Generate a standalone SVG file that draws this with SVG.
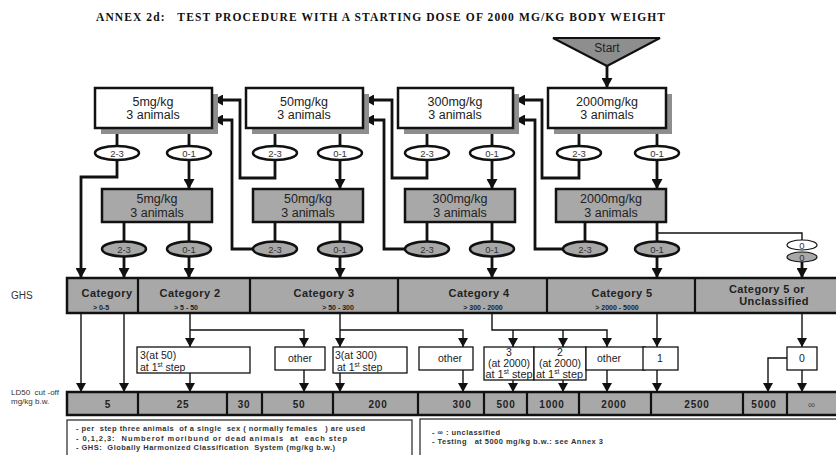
<svg xmlns="http://www.w3.org/2000/svg" width="836" height="455" viewBox="0 0 836 455">
<style>
text{font-family:"Liberation Sans",Arial,sans-serif;fill:#222}
.title{font-family:"Liberation Serif","Times New Roman",serif;font-weight:bold;font-size:11.5px;fill:#111;white-space:pre}
.box{fill:#fff;stroke:#111;stroke-width:2.5}
.gbox{fill:#a8a8a8;stroke:#111;stroke-width:2.5}
.shadow{fill:#8e8e8e}
.ell{fill:#fff;stroke:#111;stroke-width:2.5}
.gell{fill:#a8a8a8;stroke:#111;stroke-width:2.5}
.sell{stroke:#111;stroke-width:1.2}
.bt{font-size:12.5px;text-anchor:middle}
.et{font-size:9.5px;text-anchor:middle;fill:#333}
.thick{fill:none;stroke:#111;stroke-width:2.8}
.thin{fill:none;stroke:#111;stroke-width:1.4}
.bar{fill:#a8a8a8;stroke:#111;stroke-width:2.5}
.div{stroke:#111;stroke-width:2.2}
.cat{font-size:11px;font-weight:bold;text-anchor:middle;letter-spacing:0.4px}
.rng{font-size:7px;font-weight:bold;text-anchor:middle}
.num{font-size:10px;font-weight:bold;text-anchor:middle;letter-spacing:0.8px}
.lb{fill:#fff;stroke:#111;stroke-width:1.3}
.lt{font-size:10.5px}
.note{font-size:7.5px;font-weight:bold;fill:#333;white-space:pre}
.side{fill:#333;white-space:pre}
</style>
<defs>
<marker id="ah" markerUnits="userSpaceOnUse" markerWidth="11" markerHeight="11" refX="10" refY="5.5" orient="auto">
<path d="M0,0 L10,5.5 L0,11 z" fill="#111"/>
</marker>
<marker id="ahs" markerUnits="userSpaceOnUse" markerWidth="10" markerHeight="10" refX="9" refY="5" orient="auto">
<path d="M0,0 L9,5 L0,10 z" fill="#111"/>
</marker>
</defs>
<rect width="836" height="455" fill="#fff"/>
<text class="title" x="96" y="21" textLength="569" lengthAdjust="spacing">ANNEX 2d:   TEST PROCEDURE WITH A STARTING DOSE OF 2000 MG/KG BODY WEIGHT</text>

<g id="connectors">
<path class="thick" d="M607,66 V88" marker-end="url(#ah)"/>
<path class="thick" d="M117,128 V146 M189,128 V146 M275,128 V146 M340,128 V146 M427,128 V146 M492,128 V146 M579,128 V146 M657,128 V146"/>
<path class="thick" d="M124,222 V241 M189,222 V241 M275,222 V241 M340,222 V241 M427,222 V241 M492,222 V241 M585,222 V241 M657,222 V241"/>
<path class="thick" d="M189,160 V189" marker-end="url(#ah)"/>
<path class="thick" d="M340,160 V189" marker-end="url(#ah)"/>
<path class="thick" d="M492,160 V189" marker-end="url(#ah)"/>
<path class="thick" d="M657,160 V189" marker-end="url(#ah)"/>
<path class="thick" d="M117,160 V177 H81 V278" marker-end="url(#ah)"/>
<path class="thick" d="M124,256 V278" marker-end="url(#ah)"/>
<path class="thick" d="M189,256 V278" marker-end="url(#ah)"/>
<path class="thick" d="M340,256 V278" marker-end="url(#ah)"/>
<path class="thick" d="M492,256 V278" marker-end="url(#ah)"/>
<path class="thick" d="M657,256 V278" marker-end="url(#ah)"/>
<path class="thick" d="M275,160 V178 H240 V100 H213" marker-end="url(#ah)"/>
<path class="thick" d="M253,249 H232 V120 H213" marker-end="url(#ah)"/>
<path class="thick" d="M427,160 V178 H392 V100 H364" marker-end="url(#ah)"/>
<path class="thick" d="M405,249 H384 V120 H364" marker-end="url(#ah)"/>
<path class="thick" d="M579,160 V178 H542 V100 H515" marker-end="url(#ah)"/>
<path class="thick" d="M563,249 H535 V120 H515" marker-end="url(#ah)"/>
<path class="thin" d="M657,233 H802 V240"/>
<path class="thick" d="M802,262 V278" marker-end="url(#ah)"/>

<path class="thin" d="M81,313 V392" marker-end="url(#ahs)"/>
<path class="thin" d="M124,313 V392" marker-end="url(#ahs)"/>
<path class="thin" d="M190,313 V347" marker-end="url(#ahs)"/>
<path class="thin" d="M190,330 H304 V347" marker-end="url(#ahs)"/>
<path class="thin" d="M190,373 V392" marker-end="url(#ahs)"/>
<path class="thin" d="M304,370 V392" marker-end="url(#ahs)"/>
<path class="thin" d="M340,313 V347" marker-end="url(#ahs)"/>
<path class="thin" d="M340,330 H463 V347" marker-end="url(#ahs)"/>
<path class="thin" d="M340,373 V392" marker-end="url(#ahs)"/>
<path class="thin" d="M463,370 V392" marker-end="url(#ahs)"/>
<path class="thin" d="M492,313 V330 H607 V347" marker-end="url(#ahs)"/>
<path class="thin" d="M513,330 V347" marker-end="url(#ahs)"/>
<path class="thin" d="M563,330 V347" marker-end="url(#ahs)"/>
<path class="thin" d="M513,380 V392" marker-end="url(#ahs)"/>
<path class="thin" d="M563,380 V392" marker-end="url(#ahs)"/>
<path class="thin" d="M607,370 V392" marker-end="url(#ahs)"/>
<path class="thin" d="M657,313 V347" marker-end="url(#ahs)"/>
<path class="thin" d="M657,370 V392" marker-end="url(#ahs)"/>
<path class="thin" d="M802,313 V347" marker-end="url(#ahs)"/>
<path class="thin" d="M802,370 V392" marker-end="url(#ahs)"/>
<path class="thin" d="M787,358 H768 V392" marker-end="url(#ahs)"/>
</g>

<g id="start">
<polygon points="553,38 660,38 607,66" fill="#8e8e8e" stroke="#111" stroke-width="2"/>
<text class="bt" x="607" y="52" style="font-size:12px">Start</text>
</g>

<g id="top-5">
<rect class="shadow" x="101" y="94" width="117" height="40"/>
<rect class="box" x="95" y="88" width="117" height="40"/>
<text class="bt" x="153" y="105.5">5mg/kg</text><text class="bt" x="153" y="119">3 animals</text>
</g>
<g id="top-50">
<rect class="shadow" x="252" y="94" width="117" height="40"/>
<rect class="box" x="246" y="88" width="117" height="40"/>
<text class="bt" x="304" y="105.5">50mg/kg</text><text class="bt" x="304" y="119">3 animals</text>
</g>
<g id="top-300">
<rect class="shadow" x="404" y="94" width="115" height="40"/>
<rect class="box" x="398" y="88" width="115" height="40"/>
<text class="bt" x="455" y="105.5">300mg/kg</text><text class="bt" x="455" y="119">3 animals</text>
</g>
<g id="top-2000">
<rect class="shadow" x="554" y="94" width="118" height="40"/>
<rect class="box" x="548" y="88" width="118" height="40"/>
<text class="bt" x="607" y="105.5">2000mg/kg</text><text class="bt" x="607" y="119">3 animals</text>
</g>

<g id="top-ellipses">
<ellipse class="ell" cx="117" cy="153" rx="22" ry="7"/><text class="et" x="117" y="156.5">2-3</text>
<ellipse class="ell" cx="189" cy="153" rx="22" ry="7"/><text class="et" x="189" y="156.5">0-1</text>
<ellipse class="ell" cx="275" cy="153" rx="22" ry="7"/><text class="et" x="275" y="156.5">2-3</text>
<ellipse class="ell" cx="340" cy="153" rx="22" ry="7"/><text class="et" x="340" y="156.5">0-1</text>
<ellipse class="ell" cx="427" cy="153" rx="22" ry="7"/><text class="et" x="427" y="156.5">2-3</text>
<ellipse class="ell" cx="492" cy="153" rx="22" ry="7"/><text class="et" x="492" y="156.5">0-1</text>
<ellipse class="ell" cx="579" cy="153" rx="22" ry="7"/><text class="et" x="579" y="156.5">2-3</text>
<ellipse class="ell" cx="657" cy="153" rx="22" ry="7"/><text class="et" x="657" y="156.5">0-1</text>
</g>

<g id="second-5">
<rect class="gbox" x="102" y="189" width="110" height="33"/>
<text class="bt" x="157" y="203">5mg/kg</text><text class="bt" x="157" y="216.5">3 animals</text>
</g>
<g id="second-50">
<rect class="gbox" x="253" y="189" width="110" height="33"/>
<text class="bt" x="308" y="203">50mg/kg</text><text class="bt" x="308" y="216.5">3 animals</text>
</g>
<g id="second-300">
<rect class="gbox" x="405" y="189" width="110" height="33"/>
<text class="bt" x="460" y="203">300mg/kg</text><text class="bt" x="460" y="216.5">3 animals</text>
</g>
<g id="second-2000">
<rect class="gbox" x="556" y="189" width="110" height="33"/>
<text class="bt" x="611" y="203">2000mg/kg</text><text class="bt" x="611" y="216.5">3 animals</text>
</g>

<g id="second-ellipses">
<ellipse class="gell" cx="124" cy="249" rx="22" ry="7.5"/><text class="et" x="124" y="252.5">2-3</text>
<ellipse class="gell" cx="189" cy="249" rx="22" ry="7.5"/><text class="et" x="189" y="252.5">0-1</text>
<ellipse class="gell" cx="275" cy="249" rx="22" ry="7.5"/><text class="et" x="275" y="252.5">2-3</text>
<ellipse class="gell" cx="340" cy="249" rx="22" ry="7.5"/><text class="et" x="340" y="252.5">0-1</text>
<ellipse class="gell" cx="427" cy="249" rx="22" ry="7.5"/><text class="et" x="427" y="252.5">2-3</text>
<ellipse class="gell" cx="492" cy="249" rx="22" ry="7.5"/><text class="et" x="492" y="252.5">0-1</text>
<ellipse class="gell" cx="585" cy="249" rx="22" ry="7.5"/><text class="et" x="585" y="252.5">2-3</text>
<ellipse class="gell" cx="657" cy="249" rx="22" ry="7.5"/><text class="et" x="657" y="252.5">0-1</text>
</g>
<g id="zero-ellipses">
<ellipse class="sell" cx="802" cy="245" rx="15" ry="5" fill="#fff"/><text class="et" x="802" y="248.5">0</text>
<ellipse class="sell" cx="802" cy="257" rx="15" ry="5" fill="#a8a8a8"/><text class="et" x="802" y="260.5">0</text>
</g>

<g id="ghs-bar">
<text class="side" x="11" y="299" style="font-size:10px">GHS</text>
<rect class="bar" x="67" y="278" width="780" height="35"/>
<path class="div" d="M138,278 V313 M250,278 V313 M398,278 V313 M547,278 V313 M695,278 V313"/>
<text class="cat" x="107" y="297">Category</text><text class="rng" x="101" y="310">&gt;  0-5</text>
<text class="cat" x="190" y="297">Category 2</text><text class="rng" x="186" y="310">&gt; 5 - 50</text>
<text class="cat" x="324" y="297">Category 3</text><text class="rng" x="338" y="310">&gt; 50 - 300</text>
<text class="cat" x="479" y="297">Category 4</text><text class="rng" x="483" y="310">&gt; 300 - 2000</text>
<text class="cat" x="622" y="297">Category 5</text><text class="rng" x="617" y="310">&gt; 2000 - 5000</text>
<text class="cat" x="767" y="293">Category 5 or</text><text class="cat" x="774" y="305">Unclassified</text>
</g>

<g id="outcome-3at50">
<rect class="lb" x="137" y="347" width="113" height="26"/>
<text class="lt" x="140" y="359">3(at 50)</text>
<text class="lt" x="140" y="370.5">at 1<tspan font-size="6.5" dy="-4">st</tspan><tspan dy="4"> step</tspan></text>
</g>
<g id="outcome-other-1">
<rect class="lb" x="275" y="347" width="50" height="23"/>
<text class="lt" x="300" y="362" text-anchor="middle">other</text>
</g>
<g id="outcome-3at300">
<rect class="lb" x="333" y="347" width="74" height="26"/>
<text class="lt" x="335" y="359">3(at 300)</text>
<text class="lt" x="337" y="370.5">at 1<tspan font-size="6.5" dy="-4">st</tspan><tspan dy="4"> step</tspan></text>
</g>
<g id="outcome-other-2">
<rect class="lb" x="419" y="347" width="54" height="23"/>
<text class="lt" x="450" y="362" text-anchor="middle">other</text>
</g>
<g id="outcome-3at2000">
<rect class="lb" x="484" y="347" width="50" height="33"/>
<text class="lt" x="509" y="356" text-anchor="middle">3</text>
<text class="lt" x="509" y="367" text-anchor="middle">(at 2000)</text>
<text class="lt" x="485.5" y="378" textLength="47" lengthAdjust="spacingAndGlyphs">at 1<tspan font-size="6.5" dy="-4">st</tspan><tspan dy="4"> step</tspan></text>
</g>
<g id="outcome-2at2000">
<rect class="lb" x="534" y="347" width="52" height="33"/>
<text class="lt" x="560" y="356" text-anchor="middle">2</text>
<text class="lt" x="560" y="367" text-anchor="middle">(at 2000)</text>
<text class="lt" x="536" y="378" textLength="47" lengthAdjust="spacingAndGlyphs">at 1<tspan font-size="6.5" dy="-4">st</tspan><tspan dy="4"> step</tspan></text>
</g>
<g id="outcome-other-3">
<rect class="lb" x="586" y="347" width="59" height="23"/>
<text class="lt" x="609" y="362" text-anchor="middle">other</text>
</g>
<g id="outcome-1">
<rect class="lb" x="643" y="347" width="35" height="23"/>
<text class="lt" x="660" y="362" text-anchor="middle">1</text>
</g>
<g id="outcome-0">
<rect class="lb" x="787" y="347" width="30" height="23"/>
<text class="lt" x="802" y="362" text-anchor="middle">0</text>
</g>

<g id="ld50-bar">
<text class="side" x="11" y="395" style="font-size:8px">LD50  cut -off</text>
<text class="side" x="11" y="404" style="font-size:8px">mg/kg b.w.</text>
<rect class="bar" x="67" y="392" width="780" height="23"/>
<path class="div" d="M138,392 V415 M227,392 V415 M262,392 V415 M333,392 V415 M418,392 V415 M484,392 V415 M527,392 V415 M579,392 V415 M651,392 V415 M743,392 V415 M787,392 V415"/>
<text class="num" x="108" y="408">5</text>
<text class="num" x="183" y="408">25</text>
<text class="num" x="244" y="408">30</text>
<text class="num" x="299" y="408">50</text>
<text class="num" x="378" y="408">200</text>
<text class="num" x="462" y="408">300</text>
<text class="num" x="506" y="408">500</text>
<text class="num" x="552" y="408">1000</text>
<text class="num" x="614" y="408">2000</text>
<text class="num" x="697" y="408">2500</text>
<text class="num" x="764" y="408">5000</text>
<text class="num" x="812" y="408" style="font-weight:normal;fill:#555">∞</text>
</g>

<g id="notes-left">
<rect x="67" y="420" width="345" height="45" fill="#fff" stroke="#222" stroke-width="1.2"/>
<text class="note" x="76" y="431" textLength="289" lengthAdjust="spacing">- per  step three animals  of a single  sex ( normally females   ) are used</text>
<text class="note" x="76" y="440.5" textLength="271" lengthAdjust="spacing">- 0,1,2,3:  Numberof moribund or dead animals  at  each step</text>
<text class="note" x="76" y="450" textLength="259" lengthAdjust="spacing">- GHS:  Globally Harmonized Classification  System (mg/kg b.w.)</text>
</g>
<g id="notes-right">
<rect x="420" y="419" width="430" height="46" fill="#fff" stroke="#222" stroke-width="1.2"/>
<text class="note" x="432" y="435" textLength="68" lengthAdjust="spacing">- ∞ : unclassified</text>
<text class="note" x="432" y="444" textLength="171" lengthAdjust="spacing">- Testing   at 5000 mg/kg b.w.: see Annex 3</text>
</g>
</svg>
